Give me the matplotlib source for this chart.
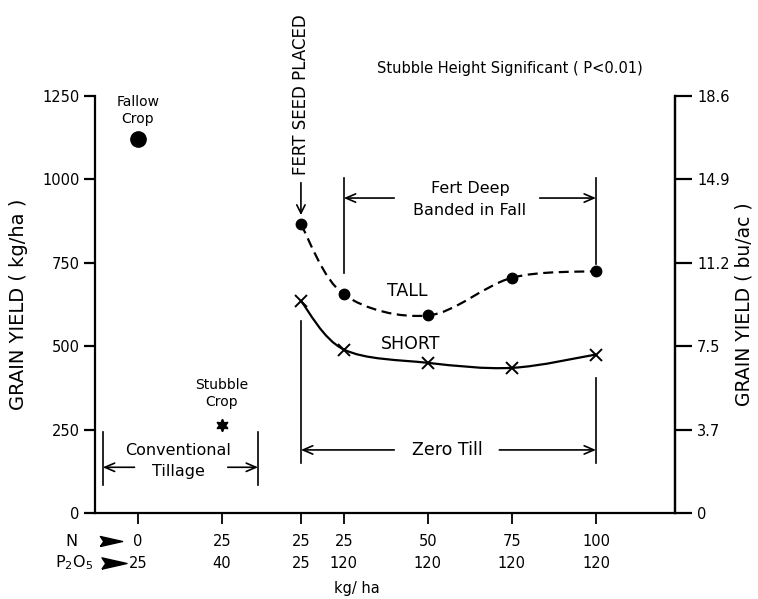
import matplotlib
matplotlib.use("Agg")
import matplotlib.pyplot as plt
from matplotlib.path import Path
from matplotlib.patches import PathPatch
import numpy as np

plt.rcParams['font.family'] = ['DejaVu Sans']

# ---- data ----
n_rates = ["0", "25", "25", "25", "50", "75", "100"]
p_rates = ["25", "40", "25", "120", "120", "120", "120"]
fallow_yield = 1120
stubble_yield = 265
tall_yield = [865, 655, 592, 705, 725]
short_yield = [635, 490, 450, 435, 475]
left_ticks = [0, 250, 500, 750, 1000, 1250]
right_tick_labels = ["0", "3.7", "7.5", "11.2", "14.9", "18.6"]

# ---- layout ----
xpos = [0, 1, 1.94, 2.45, 3.45, 4.45, 5.45]
zero_till_x = xpos[2:]

fig = plt.figure(figsize=(7.58, 5.99), dpi=100)
ax = fig.add_axes([0.1253, 0.1436, 0.7652, 0.6962])
ax.set_xlim(-0.51, 6.39)
ax.set_ylim(0, 1250)

ax.spines['top'].set_visible(False)
for s in ['left', 'bottom', 'right']:
    ax.spines[s].set_linewidth(1.6)

ax.set_yticks(left_ticks)
ax.set_yticklabels([str(v) for v in left_ticks], fontsize=10.5)
ax.tick_params(axis='y', direction='out', length=8, width=1.6, pad=3)
ax.set_xticks(xpos)
ax.set_xticklabels([])
ax.tick_params(axis='x', direction='out', length=8, width=1.3)
ax.set_ylabel("GRAIN YIELD ( kg/ha )", fontsize=14, labelpad=10)

ax2 = ax.twinx()
ax2.set_ylim(0, 1250)
ax2.set_yticks(left_ticks)
ax2.set_yticklabels(right_tick_labels, fontsize=10.5)
ax2.tick_params(axis='y', direction='out', length=12, width=1.6, pad=4)
for s in ['top', 'left', 'bottom']:
    ax2.spines[s].set_visible(False)
ax2.spines['right'].set_linewidth(1.6)
ax2.set_ylabel("GRAIN YIELD ( bu/ac )", fontsize=13.5, labelpad=3)


def smooth_path(xs, ys):
    pts = np.column_stack([xs, ys]).astype(float)
    ext = np.vstack([pts[0], pts, pts[-1]])
    verts = [tuple(pts[0])]
    codes = [Path.MOVETO]
    for i in range(len(pts) - 1):
        p0, p1, p2, p3 = ext[i], ext[i + 1], ext[i + 2], ext[i + 3]
        c1 = p1 + (p2 - p0) / 6.0
        c2 = p2 - (p3 - p1) / 6.0
        verts += [tuple(c1), tuple(c2), tuple(p2)]
        codes += [Path.CURVE4] * 3
    return Path(verts, codes)


ax.add_patch(PathPatch(smooth_path(zero_till_x, tall_yield), fill=False,
                       lw=1.6, ls=(0, (4.5, 2.5)), color='black'))
ax.add_patch(PathPatch(smooth_path(zero_till_x, short_yield), fill=False,
                       lw=1.6, color='black'))
ax.plot(zero_till_x, tall_yield, 'o', color='black', ms=7.5, zorder=5)
ax.plot(zero_till_x, short_yield, 'x', color='black', ms=8, mew=1.4, zorder=5)
ax.plot([xpos[0]], [fallow_yield], 'o', color='black', ms=11, zorder=5)
ax.plot([xpos[1]], [stubble_yield], marker=(6, 1, 0), color='black', ms=9, zorder=5)

# ---- annotations ----
ax.text(xpos[0], 1232, "Fallow", ha='center', va='center', fontsize=10)
ax.text(xpos[0], 1182, "Crop", ha='center', va='center', fontsize=10)
ax.text(xpos[1], 384, "Stubble", ha='center', va='center', fontsize=10)
ax.text(xpos[1], 333, "Crop", ha='center', va='center', fontsize=10)
ax.text(3.2, 664, "TALL", ha='center', va='center', fontsize=12.5)
ax.text(3.25, 507, "SHORT", ha='center', va='center', fontsize=12.5)

fig.text(510 / 758, 1 - 68 / 599, "Stubble Height Significant ( P<0.01)",
         ha='center', va='center', fontsize=10.5)

ax.text(1.94, 1255, "FERT SEED PLACED", rotation=90, ha='center', va='center',
        fontsize=12, clip_on=False)
ax.annotate("", xy=(1.94, 893), xytext=(1.94, 990),
            arrowprops=dict(arrowstyle='->,head_length=0.6,head_width=0.3', lw=1.2, color='black',
                            shrinkA=0, shrinkB=0),
            annotation_clip=False)

arrow_kw = dict(arrowstyle='->,head_length=0.7,head_width=0.3', lw=1.2, color='black',
                shrinkA=0, shrinkB=0)

# Fert deep banded bracket
ax.plot([2.45, 2.45], [720, 1005], color='black', lw=1.2)
ax.plot([5.45, 5.45], [745, 1005], color='black', lw=1.2)
ax.text(3.95, 974, "Fert Deep", ha='center', va='center', fontsize=11.5)
ax.text(3.95, 908, "Banded in Fall", ha='center', va='center', fontsize=11.5)
ax.annotate("", xy=(2.45, 944), xytext=(3.05, 944), arrowprops=arrow_kw)
ax.annotate("", xy=(5.45, 944), xytext=(4.78, 944), arrowprops=arrow_kw)

# Zero till bracket
ax.plot([1.94, 1.94], [150, 575], color='black', lw=1.2)
ax.plot([5.45, 5.45], [150, 405], color='black', lw=1.2)
ax.text(3.68, 189, "Zero Till", ha='center', va='center', fontsize=12.5)
ax.annotate("", xy=(1.94, 189), xytext=(3.05, 189), arrowprops=arrow_kw)
ax.annotate("", xy=(5.45, 189), xytext=(4.3, 189), arrowprops=arrow_kw)

# Conventional tillage bracket
ax.plot([-0.417, -0.417], [85, 243], color='black', lw=1.2)
ax.plot([1.43, 1.43], [85, 243], color='black', lw=1.2)
ax.text(0.48, 187, "Conventional", ha='center', va='center', fontsize=11.5)
ax.text(0.48, 125, "Tillage", ha='center', va='center', fontsize=11.5)
ax.annotate("", xy=(-0.417, 137), xytext=(-0.04, 137), arrowprops=arrow_kw)
ax.annotate("", xy=(1.43, 137), xytext=(1.07, 137), arrowprops=arrow_kw)

# x tick label rows
for x, n, p in zip(xpos, n_rates, p_rates):
    ax.text(x, -84, n, ha='center', va='center', fontsize=10.5, clip_on=False)
    ax.text(x, -150, p, ha='center', va='center', fontsize=10.5, clip_on=False)

tri = [(-1, -0.45), (1, 0), (-1, 0.45), (-0.7, 0), (-1, -0.45)]
ax.text(-0.79, -84, "N", ha='center', va='center', fontsize=11.5, clip_on=False)
ax.text(-0.76, -150, "P$_2$O$_5$", ha='center', va='center', fontsize=11.5, clip_on=False)
ax.plot([-0.32], [-84], marker=tri, color='black', ms=16, clip_on=False)
ax.plot([-0.28], [-150], marker=tri, color='black', ms=18, clip_on=False)
ax.text(2.6, -225, "kg/ ha", ha='center', va='center', fontsize=10.5, clip_on=False)

fig.savefig("out.png", dpi=100, facecolor='white')
